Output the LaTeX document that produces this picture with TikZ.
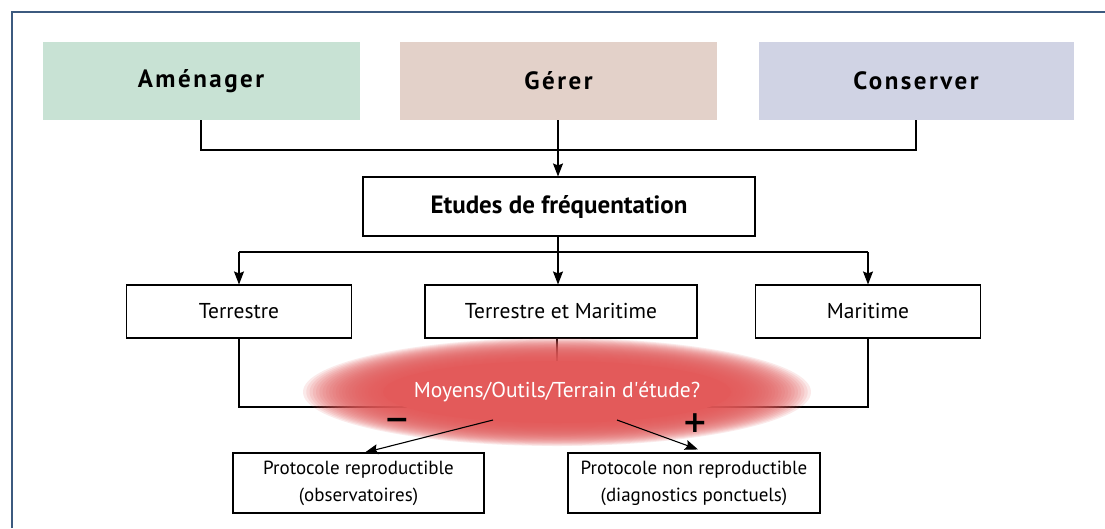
\documentclass[tikz,border=0pt]{standalone}
\usepackage{fontspec}
\setmainfont{PT Sans}
\newfontfamily\spacedbold[LetterSpace=10]{PT Sans Bold}
\newfontfamily\symfont{DejaVu Sans}
\usetikzlibrary{arrows.meta,calc}
\definecolor{framecol}{HTML}{3C5A7F}
\definecolor{cgreen}{HTML}{C8E2D4}
\definecolor{cbrown}{HTML}{E3D1C9}
\definecolor{cblue}{HTML}{D0D3E4}
\definecolor{glowred}{HTML}{E35A5A}
\tikzset{
  topbox/.style={minimum height=78pt, font=\spacedbold\fontsize{25}{28}\selectfont, inner sep=0pt},
  plainbox/.style={draw=black, line width=1.1pt, fill=white, inner sep=0pt, font=\fontsize{21.5}{25}\selectfont, align=center},
  lowbox/.style={plainbox, font=\fontsize{19}{27}\selectfont},
  conn/.style={line width=1.1pt, draw=black},
  arr/.style={conn, -{Stealth[length=13pt,width=10pt,inset=2pt]}},
  sign/.style={font=\symfont\bfseries\fontsize{30}{30}\selectfont, inner sep=0pt}
}
\begin{document}
\begin{tikzpicture}[x=1pt,y=-1pt]
\useasboundingbox (0,0) rectangle (1105,528);
\fill[white] (0,0) rectangle (1105,528);
% frame
\draw[framecol, line width=2pt] (12,528) -- (12,12) -- (1105,12);
% top boxes
\node[topbox, fill=cgreen, minimum width=317pt] (amen) at (201,81) {Aménager};
\node[topbox, fill=cbrown, minimum width=317pt] (gerer) at (558.5,81) {Gérer};
\node[topbox, fill=cblue, minimum width=315pt] (cons) at (916,81) {Conserver};
% etudes
\node[plainbox, minimum width=392pt, minimum height=59pt, font=\bfseries\fontsize{25}{28}\selectfont] (etudes) at (559,206.5) {Etudes de fréquentation};
% row
\node[plainbox, minimum width=225pt, minimum height=53pt] (terr) at (239,311.5) {Terrestre};
\node[plainbox, minimum width=272pt, minimum height=53pt] (tm) at (561,311.5) {Terrestre et Maritime};
\node[plainbox, minimum width=225pt, minimum height=53pt] (mar) at (868,311.5) {Maritime};
% bottom
\node[lowbox, minimum width=251pt, minimum height=60pt] (p1) at (358.5,483) {Protocole reproductible\\(observatoires)};
\node[lowbox, minimum width=252pt, minimum height=60pt] (p2) at (694,483) {Protocole non reproductible\\(diagnostics ponctuels)};
% coordinates
\coordinate (hub) at (558,150);
\coordinate (split) at (558,252);
\coordinate (meet) at (557,407);
\coordinate (qc) at (557,392);
\coordinate (qL) at (493,420);
\coordinate (qR) at (617,420);
% top connectors
\draw[conn] (amen.south) |- (hub) -| (cons.south);
\draw[arr] (gerer.south -| hub) -- (etudes.north -| hub);
% to row
\draw[conn] (etudes.south -| split) -- (split);
\draw[conn] (terr.north |- split) -- (mar.north |- split);
\draw[arr] (terr.north |- split) -- (terr.north);
\draw[arr] (split) -- (tm.north -| split);
\draw[arr] (mar.north |- split) -- (mar.north);
% to question
\draw[conn] (terr.south) |- (meet);
\draw[conn] (mar.south) |- (meet);
\draw[conn] (tm.south -| meet) -- (meet);
% glow
\foreach \i in {0,...,24}{
  \fill[glowred, opacity=0.12] (qc) ellipse ({176+78*(1-\i/24)} and {32+22*(1-\i/24)});
}
\fill[glowred] (qc) ellipse (174 and 31);
\node[text=white, font=\fontsize{21.5}{24}\selectfont, inner sep=0pt] (q) at (qc) {Moyens/Outils/Terrain d\textquotesingle étude?};
% outgoing
\draw[arr] (qL) -- (p1.north -| 365,0);
\draw[arr] (qR) -- ($(p2.north)+(4,-3)$);
\node[sign] (minus) at (397,424) {−};
\node[sign] (plus) at (695,423) {+};
\end{tikzpicture}
\end{document}
